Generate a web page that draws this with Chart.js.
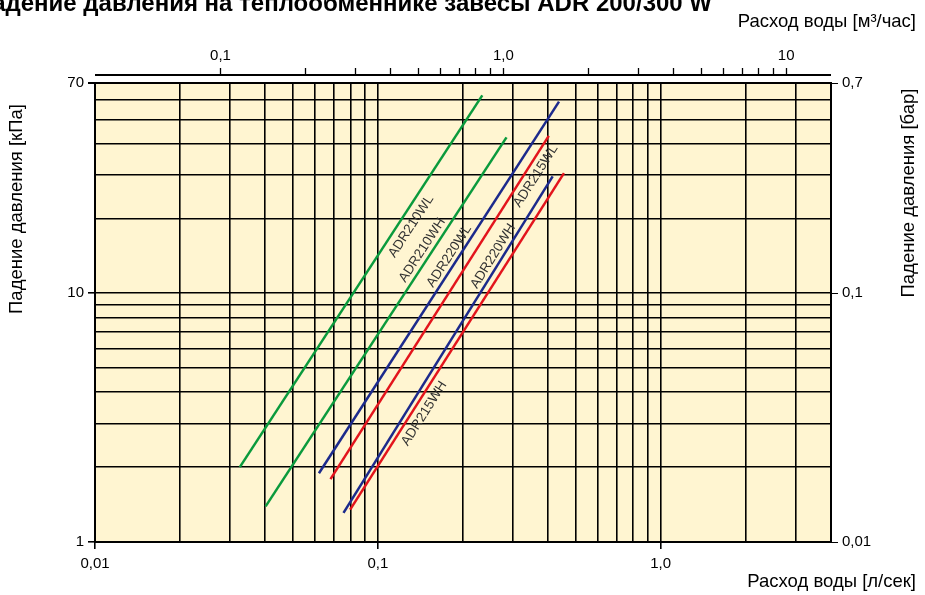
<!DOCTYPE html>
<html>
<head>
<meta charset="utf-8">
<script src="https://cdn.jsdelivr.net/npm/chart.js@4/dist/chart.umd.min.js"></script>
<style>
  body { margin: 0; background: #fff; }
  #wrap { width: 925px; height: 595px; }
</style>
</head>
<body>
<div id="wrap"><canvas id="graficoPerdas" width="925" height="595"></canvas></div>
<script>
// модели и их линии (расход л/сек -> падение давления кПа)
const models = ['ADR210WL', 'ADR210WH', 'ADR220WL', 'ADR215WL', 'ADR220WH', 'ADR215WH'];
const flowStart = [0.0325, 0.0401, 0.0619, 0.068, 0.0756, 0.0798];
const dpStart   = [2.0, 1.39, 1.89, 1.79, 1.31, 1.35];
const flowEnd   = [0.234, 0.285, 0.437, 0.402, 0.415, 0.455];
const dpEnd     = [62.4, 42.3, 58.9, 42.9, 29.5, 30.4];
const lineColors = ['#0a9a3c', '#0a9a3c', '#1c2a8c', '#e3141c', '#1c2a8c', '#e3141c'];

// где стоят подписи линий (в единицах графика)
const labelFlow = [0.1318, 0.1443, 0.1797, 0.3637, 0.257, 0.1466];
const labelDp   = [18.5, 14.85, 14.04, 29.5, 14.04, 3.27];

// сетка и подписи осей
const xGrid = [0.01, 0.02, 0.03, 0.04, 0.05, 0.06, 0.07, 0.08, 0.09,
               0.1, 0.2, 0.3, 0.4, 0.5, 0.6, 0.7, 0.8, 0.9, 1, 2, 3];
const xTickValues = [0.01, 0.1, 1];
const xTickLabels = ['0,01', '0,1', '1,0'];

const yGrid = [1, 2, 3, 4, 5, 6, 7, 8, 9, 10, 20, 30, 40, 50, 60, 70];
const yTickValues = [1, 10, 70];
const yTickLabels = ['1', '10', '70'];

const barTickValues = [0.01, 0.1, 0.7];
const barTickLabels = ['0,01', '0,1', '0,7'];

const m3hTicks = [0.1, 0.2, 0.3, 0.4, 0.5, 0.6, 0.7, 0.8, 0.9,
                  1, 2, 3, 4, 5, 6, 7, 8, 9, 10];
const m3hTickValues = [0.1, 1, 10];
const m3hTickLabels = ['0,1', '1,0', '10'];

const FONT = '"Liberation Sans", Arial, sans-serif';

const datasets = models.map((name, i) => ({
  label: name,
  data: [{ x: flowStart[i], y: dpStart[i] }, { x: flowEnd[i], y: dpEnd[i] }],
  borderColor: lineColors[i],
  borderWidth: 2.5,
  pointRadius: 0,
  showLine: true,
  fill: false
}));

function fixTicks(values) {
  return function(scale) {
    scale.ticks = values.map(v => ({ value: v }));
  };
}
function labelFrom(values, labels) {
  return function(value) {
    const k = values.indexOf(value);
    return k >= 0 ? labels[k] : '';
  };
}
function tickOnly(values) {
  return function(ctx) {
    return ctx.tick && values.indexOf(ctx.tick.value) >= 0 ? '#000' : 'rgba(0,0,0,0)';
  };
}

// фон области графика
const backgroundPlugin = {
  id: 'fundo',
  beforeDraw(chart) {
    const a = chart.chartArea;
    const c = chart.ctx;
    c.save();
    c.fillStyle = '#fff5d1';
    c.fillRect(a.left, a.top, a.right - a.left, a.bottom - a.top);
    c.restore();
  }
};

// надписи: заголовок, названия осей, подписи линий, линия верхней оси
const textPlugin = {
  id: 'textos',
  afterDatasetsDraw(chart) {
    const c = chart.ctx;
    const sx = chart.scales.x, sy = chart.scales.y;
    c.save();
    c.font = '13.5px ' + FONT;
    c.fillStyle = '#333';
    c.textAlign = 'center';
    c.textBaseline = 'bottom';
    models.forEach((name, i) => {
      const pts = chart.getDatasetMeta(i).data;
      const ang = Math.atan2(pts[1].y - pts[0].y, pts[1].x - pts[0].x);
      c.save();
      c.translate(sx.getPixelForValue(labelFlow[i]), sy.getPixelForValue(labelDp[i]));
      c.rotate(ang);
      c.fillText(name, 0, 6);
      c.restore();
    });
    c.restore();
  },
  afterDraw(chart) {
    const c = chart.ctx;
    const a = chart.chartArea;
    c.save();
    // верхняя ось
    c.strokeStyle = '#000';
    c.lineWidth = 2;
    c.beginPath();
    c.moveTo(a.left, a.top - 8);
    c.lineTo(a.right, a.top - 8);
    c.stroke();

    c.fillStyle = '#000';
    c.font = 'bold 24px ' + FONT;
    c.textAlign = 'right';
    c.textBaseline = 'alphabetic';
    c.fillText('Падение давления на теплообменнике завесы ADR 200/300 W', 712, 11);

    c.font = '18.5px ' + FONT;
    c.fillText('Расход воды [м³/час]', 916, 27);
    c.fillText('Расход воды [л/сек]', 916, 587);

    c.textAlign = 'center';
    c.save();
    c.translate(22, 209);
    c.rotate(-Math.PI / 2);
    c.fillText('Падение давления [кПа]', 0, 0);
    c.restore();
    c.save();
    c.translate(914, 193);
    c.rotate(-Math.PI / 2);
    c.fillText('Падение давления [бар]', 0, 0);
    c.restore();
    c.restore();
  }
};

const tickFont = { family: FONT, size: 15 };
const GRID_W = 1.6;

new Chart(document.getElementById('graficoPerdas'), {
  type: 'scatter',
  data: { datasets: datasets },
  options: {
    responsive: false,
    animation: false,
    layout: { padding: 0 },
    plugins: { legend: { display: false }, tooltip: { enabled: false }, title: { display: false } },
    scales: {
      x: {
        type: 'logarithmic',
        position: 'bottom',
        min: 0.01,
        max: 4,
        afterBuildTicks: fixTicks(xGrid),
        afterFit(s) { s.height = 53; },
        ticks: { callback: labelFrom(xTickValues, xTickLabels), color: '#000', font: tickFont,
                 autoSkip: false, maxRotation: 0, padding: 6 },
        grid: { color: '#000', lineWidth: GRID_W, tickLength: 7, tickColor: tickOnly(xTickValues) },
        border: { display: true, color: '#000', width: 2 }
      },
      x2: {
        type: 'logarithmic',
        position: 'top',
        min: 0.036,
        max: 14.4,
        afterBuildTicks: fixTicks(m3hTicks),
        afterFit(s) { s.height = 83; },
        ticks: { callback: labelFrom(m3hTickValues, m3hTickLabels), color: '#000', font: tickFont,
                 autoSkip: false, maxRotation: 0, padding: 3 },
        grid: { drawOnChartArea: false, tickLength: 15, tickColor: '#000', tickWidth: 1.3,
                tickBorderDash: [7, 30] },
        border: { display: false }
      },
      y: {
        type: 'logarithmic',
        position: 'left',
        min: 1,
        max: 70,
        afterBuildTicks: fixTicks(yGrid),
        afterFit(s) { s.width = 95; },
        ticks: { callback: labelFrom(yTickValues, yTickLabels), color: '#000', font: tickFont,
                 autoSkip: false, padding: 4 },
        grid: { color: '#000', lineWidth: ctx => (ctx.tick && ctx.tick.value === 70 ? 2 : GRID_W),
                tickLength: 7, tickColor: tickOnly(yTickValues) },
        border: { display: true, color: '#000', width: 2 }
      },
      y2: {
        type: 'logarithmic',
        position: 'right',
        min: 0.01,
        max: 0.7,
        afterBuildTicks: fixTicks(barTickValues),
        afterFit(s) { s.width = 94; },
        ticks: { callback: labelFrom(barTickValues, barTickLabels), color: '#000', font: tickFont,
                 autoSkip: false, padding: 4 },
        grid: { drawOnChartArea: false, tickLength: 7, tickColor: '#000' },
        border: { display: true, color: '#000', width: 2 }
      }
    }
  },
  plugins: [backgroundPlugin, textPlugin]
});
</script>
</body>
</html>
